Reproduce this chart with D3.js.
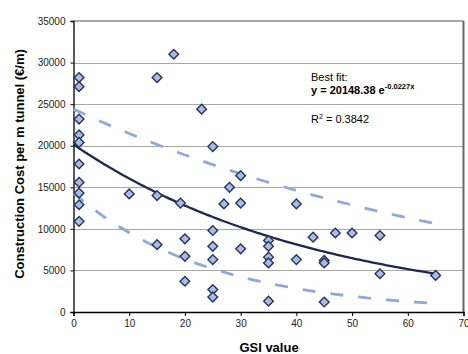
<!DOCTYPE html>
<html><head><meta charset="utf-8">
<script src="https://cdn.jsdelivr.net/npm/d3@7"></script>
<style>body{margin:0;background:#fff}svg{display:block}</style>
</head><body><svg id="c" width="468" height="354"></svg>
<script>
const gsi = [1,1,1,1,1,1,1,1,1,1,10,15,15,15,18,19.2,20,20,20,23,25,25,25,25,25,25,27,28,30,30,30,35,35,35,35,35,40,40,43,45,45,45,47,50,55,55,65];
const cost = [28200,27100,23200,21300,20400,17800,15600,14300,12900,10900,14200,28200,14000,8100,31000,13100,8800,6700,3700,24400,19900,9800,7900,6300,2700,1800,13000,15000,16400,13100,7600,8600,7900,6600,5900,1300,13000,6300,9000,6200,5900,1200,9500,9500,9200,4600,4400];
const fitA = 20148.38, fitB = -0.0227, fitMax = 65;
const bandX = [0,5,10,15,20,25,30,35,40,45,50,55,60,65];
const upperBand = [24400,22890,21470,20140,18890,17720,16620,15590,14620,13720,12870,12070,11320,10620];
const lowerBand = [14300,11680,9540,7790,6360,5200,4240,3470,2830,2310,1890,1540,1260,1030];
const xTicks = [0,10,20,30,40,50,60,70];
const yTicks = [0,5000,10000,15000,20000,25000,30000,35000];

const svg = d3.select('#c');
const x = d3.scaleLinear().domain([0,70]).range([73.5,463.5]);
const y = d3.scaleLinear().domain([0,35000]).range([312,21]);
const font = 'Liberation Sans, Arial, sans-serif';

// gridlines
svg.append('g').selectAll('line').data(yTicks.slice(1,-1)).join('line')
  .attr('x1',x(0)).attr('x2',x(70)).attr('y1',d=>Math.round(y(d))+0.5).attr('y2',d=>Math.round(y(d))+0.5)
  .attr('stroke','#a6a6a6').attr('stroke-width',1.2);
// top & right border
svg.append('line').attr('x1',x(0)).attr('x2',x(70)).attr('y1',y(35000)).attr('y2',y(35000)).attr('stroke','#555').attr('stroke-width',1.2);
svg.append('line').attr('x1',x(70)).attr('x2',x(70)).attr('y1',y(35000)).attr('y2',y(0)).attr('stroke','#666').attr('stroke-width',2);

// axes
const xAxis = svg.append('g').attr('transform',`translate(0,${y(0)})`)
  .call(d3.axisBottom(x).tickValues(xTicks).tickSize(4).tickPadding(4).tickFormat(d3.format('d')));
const yAxis = svg.append('g').attr('transform',`translate(${x(0)},0)`)
  .call(d3.axisLeft(y).tickValues(yTicks).tickSize(3).tickPadding(5).tickFormat(d3.format('d')));
[xAxis,yAxis].forEach(a=>{
  a.select('.domain').attr('stroke','#000').attr('stroke-width',1.3);
  a.selectAll('.tick line').attr('stroke','#000');
  a.selectAll('text').attr('font-family',font).attr('font-size',10).attr('fill','#222');
});

// bands
const bandLine = d3.line().x((d,i)=>x(bandX[i])).y(d=>y(d)).curve(d3.curveMonotoneX);
[upperBand, lowerBand].forEach(b=>{
  svg.append('path').attr('d',bandLine(b)).attr('fill','none')
    .attr('stroke','#8eaadc').attr('stroke-width',2.8).attr('stroke-dasharray','13,15');
});

// best fit
const fitX = d3.range(0, fitMax+0.01, 0.5);
svg.append('path').attr('d', d3.line().x(d=>x(d)).y(d=>y(fitA*Math.exp(fitB*d)))(fitX))
  .attr('fill','none').attr('stroke','#1c2850').attr('stroke-width',2.3);

// points
const sym = d3.symbol().type(d3.symbolDiamond2).size(60);
svg.append('g').selectAll('path').data(gsi).join('path')
  .attr('d', sym)
  .attr('transform',(d,i)=>`translate(${x(d)},${y(cost[i])})`)
  .attr('fill','#a9bde3').attr('stroke','#26335c').attr('stroke-width',1.4);

// annotation
svg.append('text').attr('x',311).attr('y',80.5).attr('font-family',font).attr('font-size',11).attr('fill','#000').text('Best fit:');
const eq = svg.append('text').attr('x',311).attr('y',94).attr('font-family',font).attr('font-size',11).attr('font-weight','bold').attr('fill','#000');
eq.append('tspan').text('y = 20148.38 e');
eq.append('tspan').attr('font-size',7.5).attr('dy',-5).text('-0.0227x');
const r2 = svg.append('text').attr('x',311).attr('y',123).attr('font-family',font).attr('font-size',11).attr('fill','#000');
r2.append('tspan').text('R');
r2.append('tspan').attr('font-size',7).attr('dy',-4).text('2');
r2.append('tspan').attr('dy',4).text(' = 0.3842');

// titles
svg.append('text').attr('x',269).attr('y',352).attr('text-anchor','middle').attr('font-family',font)
  .attr('font-size',13).attr('font-weight','bold').attr('fill','#000').text('GSI value');
svg.append('text').attr('transform','translate(24,164) rotate(-90)').attr('text-anchor','middle').attr('font-family',font)
  .attr('font-size',13).attr('font-weight','bold').attr('fill','#000').text('Construction Cost  per m tunnel (€/m)');
</script></body></html>
